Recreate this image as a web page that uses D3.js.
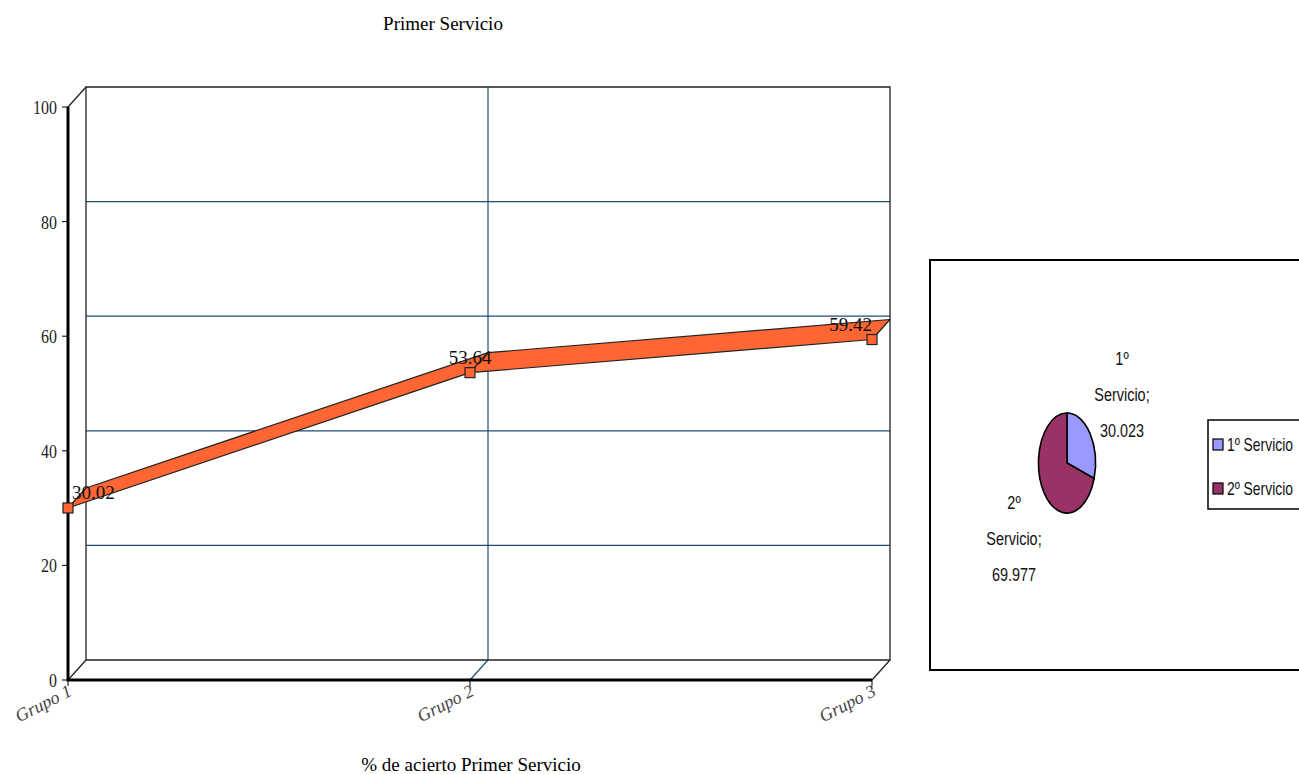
<!DOCTYPE html>
<html lang="es">
  <head>
    <meta charset="UTF-8" />
    <title>Primer Servicio</title>
    <script src="https://d3js.org/d3.v7.min.js"></script>
    <style>
      body {
        margin: 0;
        background: #fff;
      }
      .serif {
        font-family: "Liberation Serif", "DejaVu Serif", serif;
      }
      .narrow {
        font-family: "Liberation Sans", Arial, sans-serif;
      }
    </style>
  </head>
  <body>
    <div class="chart"></div>
    <script>
      // data
      const categories = ["Grupo 1", "Grupo 2", "Grupo 3"];
      const aciertos = [30.02, 53.64, 59.42];
      const yTicks = [0, 20, 40, 60, 80, 100];
      const pieNames = ["1º Servicio", "2º Servicio"];
      const pieValues = [30.023, 69.977];
      const pieColors = ["#9999ff", "#993366"];

      const W = 1299, H = 774;
      const depth = { dx: 18, dy: -20 };
      const gridColor = "#1f4e79";
      const squeeze = 0.84; // narrow look of the original fonts

      const svg = d3
        .select(".chart")
        .append("svg")
        .attr("width", W)
        .attr("height", H);

      const x = d3.scalePoint().domain(categories).range([68, 872]);
      const y = d3.scaleLinear().domain([0, 100]).range([680, 107]);

      const x0 = x(categories[0]), x1 = x(categories[categories.length - 1]);
      const yb = y(0), yt = y(100);

      // title
      svg
        .append("text")
        .attr("class", "serif")
        .attr("x", 443)
        .attr("y", 30)
        .attr("text-anchor", "middle")
        .style("font-size", "19px")
        .text("Primer Servicio");

      // back wall gridlines
      const grid = svg.append("g");
      grid
        .selectAll(".hgrid")
        .data(yTicks.filter((t) => t > 0 && t < 100))
        .enter()
        .append("line")
        .attr("x1", x0 + depth.dx)
        .attr("x2", x1 + depth.dx)
        .attr("y1", (d) => y(d) + depth.dy)
        .attr("y2", (d) => y(d) + depth.dy)
        .attr("stroke", gridColor)
        .attr("stroke-width", 1.2);

      grid
        .selectAll(".vgrid")
        .data(categories.slice(1, -1))
        .enter()
        .append("g")
        .each(function (d) {
          const g = d3.select(this);
          g.append("line")
            .attr("x1", x(d) + depth.dx)
            .attr("x2", x(d) + depth.dx)
            .attr("y1", yt + depth.dy)
            .attr("y2", yb + depth.dy)
            .attr("stroke", gridColor)
            .attr("stroke-width", 1.2);
          g.append("line")
            .attr("x1", x(d))
            .attr("x2", x(d) + depth.dx)
            .attr("y1", yb)
            .attr("y2", yb + depth.dy)
            .attr("stroke", gridColor)
            .attr("stroke-width", 1.2);
        });

      // back wall frame
      const frame = svg.append("g").attr("fill", "none").attr("stroke", "#222").attr("stroke-width", 1.3);
      frame
        .append("path")
        .attr(
          "d",
          `M${x0 + depth.dx},${yb + depth.dy} V${yt + depth.dy} H${x1 + depth.dx} V${yb + depth.dy} H${x0 + depth.dx}`
        );
      frame.append("line").attr("x1", x0).attr("y1", yt).attr("x2", x0 + depth.dx).attr("y2", yt + depth.dy);
      frame.append("line").attr("x1", x0).attr("y1", yb).attr("x2", x0 + depth.dx).attr("y2", yb + depth.dy);
      frame.append("line").attr("x1", x1).attr("y1", yb).attr("x2", x1 + depth.dx).attr("y2", yb + depth.dy);

      // front axes
      svg
        .append("path")
        .attr("d", `M${x0},${yt} V${yb} H${x1}`)
        .attr("fill", "none")
        .attr("stroke", "#000")
        .attr("stroke-width", 3);

      svg
        .append("g")
        .selectAll("line")
        .data(yTicks)
        .enter()
        .append("line")
        .attr("x1", x0 - 6)
        .attr("x2", x0)
        .attr("y1", (d) => y(d))
        .attr("y2", (d) => y(d))
        .attr("stroke", "#000");

      svg
        .append("g")
        .selectAll("text")
        .data(yTicks)
        .enter()
        .append("text")
        .attr("class", "serif")
        .attr("transform", (d) => `translate(${x0 - 11},${y(d) + 7}) scale(${squeeze},1)`)
        .attr("text-anchor", "end")
        .attr("fill", "#222")
        .style("font-size", "19px")
        .text((d) => d);

      svg
        .append("g")
        .selectAll("line")
        .data(categories)
        .enter()
        .append("line")
        .attr("x1", (d) => x(d))
        .attr("x2", (d) => x(d))
        .attr("y1", yb)
        .attr("y2", yb + 6)
        .attr("stroke", "#000");

      svg
        .append("g")
        .selectAll("text")
        .data(categories)
        .enter()
        .append("text")
        .attr("class", "serif")
        .attr("transform", (d) => `translate(${x(d) + 5},${yb + 15}) rotate(-27)`)
        .attr("text-anchor", "end")
        .attr("fill", "#444")
        .style("font-size", "18px")
        .style("font-style", "italic")
        .text((d) => d);

      svg
        .append("text")
        .attr("class", "serif")
        .attr("x", 471)
        .attr("y", 771)
        .attr("text-anchor", "middle")
        .style("font-size", "19px")
        .text("% de acierto Primer Servicio");

      // ribbon
      const pts = categories.map((c, i) => ({ c: c, v: aciertos[i] }));
      const ribbon = svg.append("g");
      for (let i = 0; i < pts.length - 1; i++) {
        const a = pts[i], b = pts[i + 1];
        const ax = x(a.c), ay = y(a.v), bx = x(b.c), by = y(b.v);
        ribbon
          .append("polygon")
          .attr(
            "points",
            [
              [ax, ay],
              [bx, by],
              [bx + depth.dx, by + depth.dy],
              [ax + depth.dx, ay + depth.dy],
            ].join(" ")
          )
          .attr("fill", "#ff6633")
          .attr("stroke", "#222")
          .attr("stroke-width", 1.2)
          .attr("stroke-linejoin", "round");
      }

      ribbon
        .selectAll("rect")
        .data(pts)
        .enter()
        .append("rect")
        .attr("x", (d) => x(d.c) - 5)
        .attr("y", (d) => y(d.v) - 5)
        .attr("width", 10)
        .attr("height", 10)
        .attr("fill", "#ff6633")
        .attr("stroke", "#222")
        .attr("stroke-width", 1.2);

      const anchors = ["start", "middle", "end"];
      ribbon
        .selectAll("text")
        .data(pts)
        .enter()
        .append("text")
        .attr("class", "serif")
        .attr("x", (d, i) => x(d.c) + (i === 0 ? 4 : 0))
        .attr("y", (d) => y(d.v) - 9)
        .attr("text-anchor", (d, i) => anchors[i])
        .attr("fill", "#111")
        .style("font-size", "19px")
        .text((d) => d.v.toFixed(2));

      // pie panel
      svg
        .append("rect")
        .attr("x", 930)
        .attr("y", 260)
        .attr("width", 420)
        .attr("height", 410)
        .attr("fill", "#fff")
        .attr("stroke", "#000")
        .attr("stroke-width", 2);

      const pie = d3.pie().sort(null)(pieValues);
      const arc = d3.arc().innerRadius(0).outerRadius(50);
      const pieG = svg.append("g").attr("transform", "translate(1067,463)");
      pieG
        .selectAll("path")
        .data(pie)
        .enter()
        .append("path")
        .attr("transform", "scale(0.57,1)")
        .attr("d", arc)
        .attr("fill", (d, i) => pieColors[i])
        .attr("stroke", "#000")
        .attr("stroke-width", 1.6)
        .attr("vector-effect", "non-scaling-stroke");

      const pieLabelPos = [
        [55, -98],
        [-53, 46],
      ];
      pie.forEach((d, i) => {
        const t = pieG
          .append("text")
          .attr("class", "narrow")
          .attr("transform", `translate(${pieLabelPos[i][0]},${pieLabelPos[i][1]}) scale(0.76,1)`)
          .attr("text-anchor", "middle")
          .style("font-size", "19px")
          .attr("fill", "#111");
        const lines = [pieNames[i].split(" ")[0], pieNames[i].split(" ")[1] + ";", d3.format(".3f")(pieValues[i])];
        lines.forEach((l, j) => {
          t.append("tspan")
            .attr("x", 0)
            .attr("y", j * 36)
            .text(l);
        });
      });

      // legend
      const legend = svg.append("g").attr("transform", "translate(1208,420)");
      legend
        .append("rect")
        .attr("width", 110)
        .attr("height", 89)
        .attr("fill", "#fff")
        .attr("stroke", "#000")
        .attr("stroke-width", 1.5);
      const items = legend
        .selectAll(".item")
        .data(pieNames)
        .enter()
        .append("g")
        .attr("transform", (d, i) => `translate(5,${19 + i * 44})`);
      items
        .append("rect")
        .attr("width", 10)
        .attr("height", 11)
        .attr("fill", (d, i) => pieColors[i])
        .attr("stroke", "#000")
        .attr("stroke-width", 1.2);
      items
        .append("text")
        .attr("class", "narrow")
        .attr("transform", `translate(14,12) scale(0.73,1)`)
        .style("font-size", "19px")
        .attr("fill", "#111")
        .text((d) => d);
    </script>
  </body>
</html>
